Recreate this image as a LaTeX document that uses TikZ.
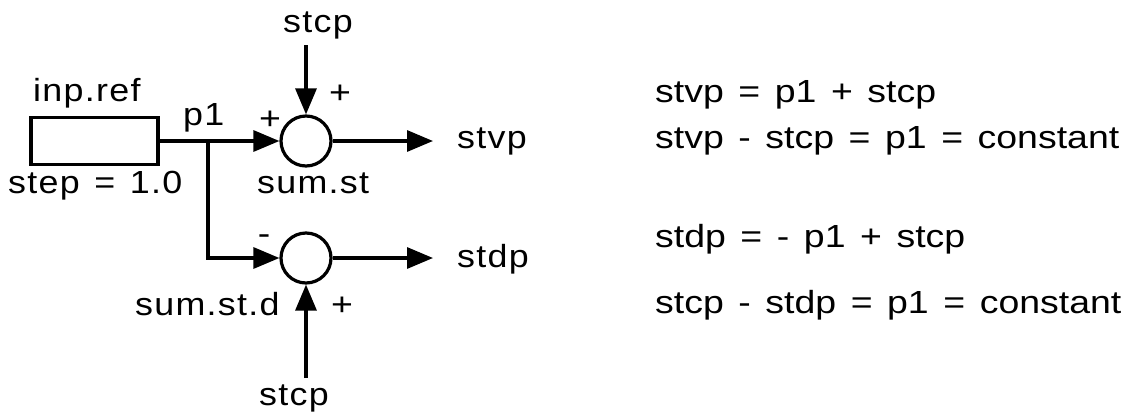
\documentclass[tikz,border=0pt]{standalone}
\usepackage{fontspec}
\setmainfont{Liberation Sans}[FakeStretch=1.17, WordSpace=1.4]
\newfontfamily\lblfont{Liberation Sans}[FakeStretch=1.12, LetterSpace=4, WordSpace=1.3]
\usetikzlibrary{arrows.meta}

\tikzset{
  lbl/.style={font=\lblfont\fontsize{32}{38}\selectfont, inner sep=0pt, anchor=base west},
  sgn/.style={font=\fontsize{32}{38}\selectfont, inner sep=0pt, anchor=base},
  eqn/.style={font=\fontsize{32}{38}\selectfont, inner sep=0pt, anchor=base west},
  sumnode/.style={circle, draw, line width=3.2pt, minimum size=50pt, inner sep=0pt},
  blk/.style={rectangle, draw, line width=3.2pt, minimum width=127pt, minimum height=47pt, inner sep=0pt},
  flow/.style={line width=3.2pt, -{Triangle[length=26pt,width=21pt]}}
}

\begin{document}
\begin{tikzpicture}[x=1pt, y=-1pt]
  \useasboundingbox (0,0) rectangle (1128,416);

  % blocks
  \node[blk] (ref) at (94.5,141) {};
  \node[sumnode] (s1) at (306,141) {};
  \node[sumnode] (s2) at (306,258) {};

  % connector end points
  \coordinate (j)   at (208,141);
  \coordinate (top) at (306,45);
  \coordinate (bot) at (306,378);
  \coordinate (o1)  at (433,141);
  \coordinate (o2)  at (433,258);

  % signal lines
  \draw[flow] (ref.east) -- (s1.west);
  \draw[flow] (j) |- (s2.west);
  \draw[flow] (top) -- (s1.north);
  \draw[flow] (bot) -- (s2.south);
  \draw[flow] (s1.east) -- (o1);
  \draw[flow] (s2.east) -- (o2);

  % labels
  \node[lbl] (lstcpa) at (283,32)  {stcp};
  \node[sgn] (pa)     at (340,103) {+};
  \node[lbl] (linp)   at (33,101)  {inp.ref};
  \node[lbl] (lp1)    at (183,125) {p1};
  \node[sgn] (pb)     at (270,129) {+};
  \node[lbl] (lstep)  at (8,193)   {step = 1.0};
  \node[lbl] (lsum)   at (257,193) {sum.st};
  \node[lbl] (lstvp)  at (457,148) {stvp};
  \node[sgn] (mc)     at (264,244) {-};
  \node[lbl] (lsumd)  at (135,315) {sum.st.d};
  \node[sgn] (pd)     at (342,315) {+};
  \node[lbl] (lstcpb) at (259,405) {stcp};
  \node[lbl] (lstdp)  at (457,267) {stdp};

  % relations
  \node[eqn] (e1) at (655,102) {stvp = p1 + stcp};
  \node[eqn] (e2) at (655,148) {stvp - stcp = p1 = constant};
  \node[eqn] (e3) at (655,247) {stdp = - p1 + stcp};
  \node[eqn] (e4) at (655,313) {stcp - stdp = p1 = constant};
\end{tikzpicture}
\end{document}
